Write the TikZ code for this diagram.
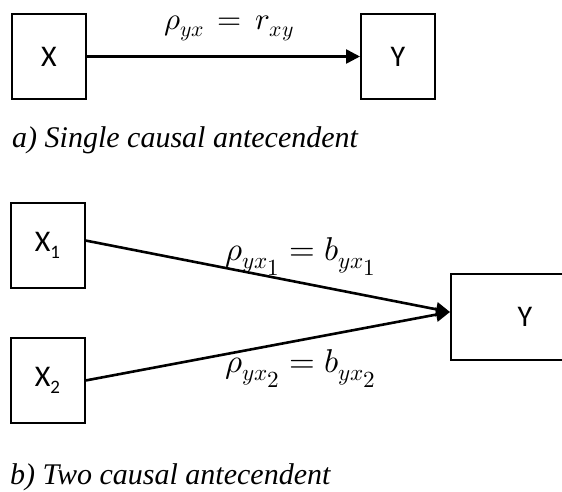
\documentclass[tikz,border=0pt]{standalone}
\usepackage{fontspec}
\usepackage{unicode-math}
\setmainfont{Liberation Serif}
\newfontfamily\boxfont{Carlito}
\usetikzlibrary{arrows.meta}
\begin{document}
\begin{tikzpicture}[x=1pt,y=-1pt,
  box/.style={draw,line width=2pt,minimum width=74pt,minimum height=85pt,inner sep=0pt,font=\boxfont\fontsize{30}{34}\selectfont},
  conn/.style={line width=2.6pt,-{Triangle[length=14pt,width=14pt]}},
  lbl/.style={font=\fontsize{33}{36}\selectfont,inner sep=0pt,anchor=base},
  captext/.style={font=\itshape\fontsize{30}{36}\selectfont,inner sep=0pt,anchor=base west}]
\useasboundingbox (0,0) rectangle (562,491);
% a) single
\node[box] (X) at (49,56.5) {X};
\node[box] (Ya) at (398,56.5) {Y};
\draw[conn] (X) -- (Ya);
\node[lbl,font=\fontsize{31}{34}\selectfont] (la) at (229,29) {$\rho_{yx}\,=\,r_{xy}$};
\node[captext] (capa) at (12,147) {a) Single causal antecendent};
% b) two
\node[box] (X1) at (47.5,245.5) {X\raisebox{-0.22em}{\fontsize{19}{19}\selectfont 1}};
\node[box] (X2) at (47.5,380.5) {X\raisebox{-0.22em}{\fontsize{19}{19}\selectfont 2}};
\node[box,minimum width=148pt,minimum height=86pt] (Yb) at (525,317) {Y};
\draw[conn] ([yshift=5pt]X1.east) -- ([yshift=5pt]Yb.west);
\draw[conn] (X2.east) -- ([yshift=5pt]Yb.west);
\node[lbl] (lb1) at (301,260) {$\rho_{yx_{\scriptstyle 1}} = b_{yx_{\scriptstyle 1}}$};
\node[lbl] (lb2) at (301,372) {$\rho_{yx_{\scriptstyle 2}} = b_{yx_{\scriptstyle 2}}$};
\node[captext] (capb) at (10,484) {b) Two causal antecendent};
\end{tikzpicture}
\end{document}
